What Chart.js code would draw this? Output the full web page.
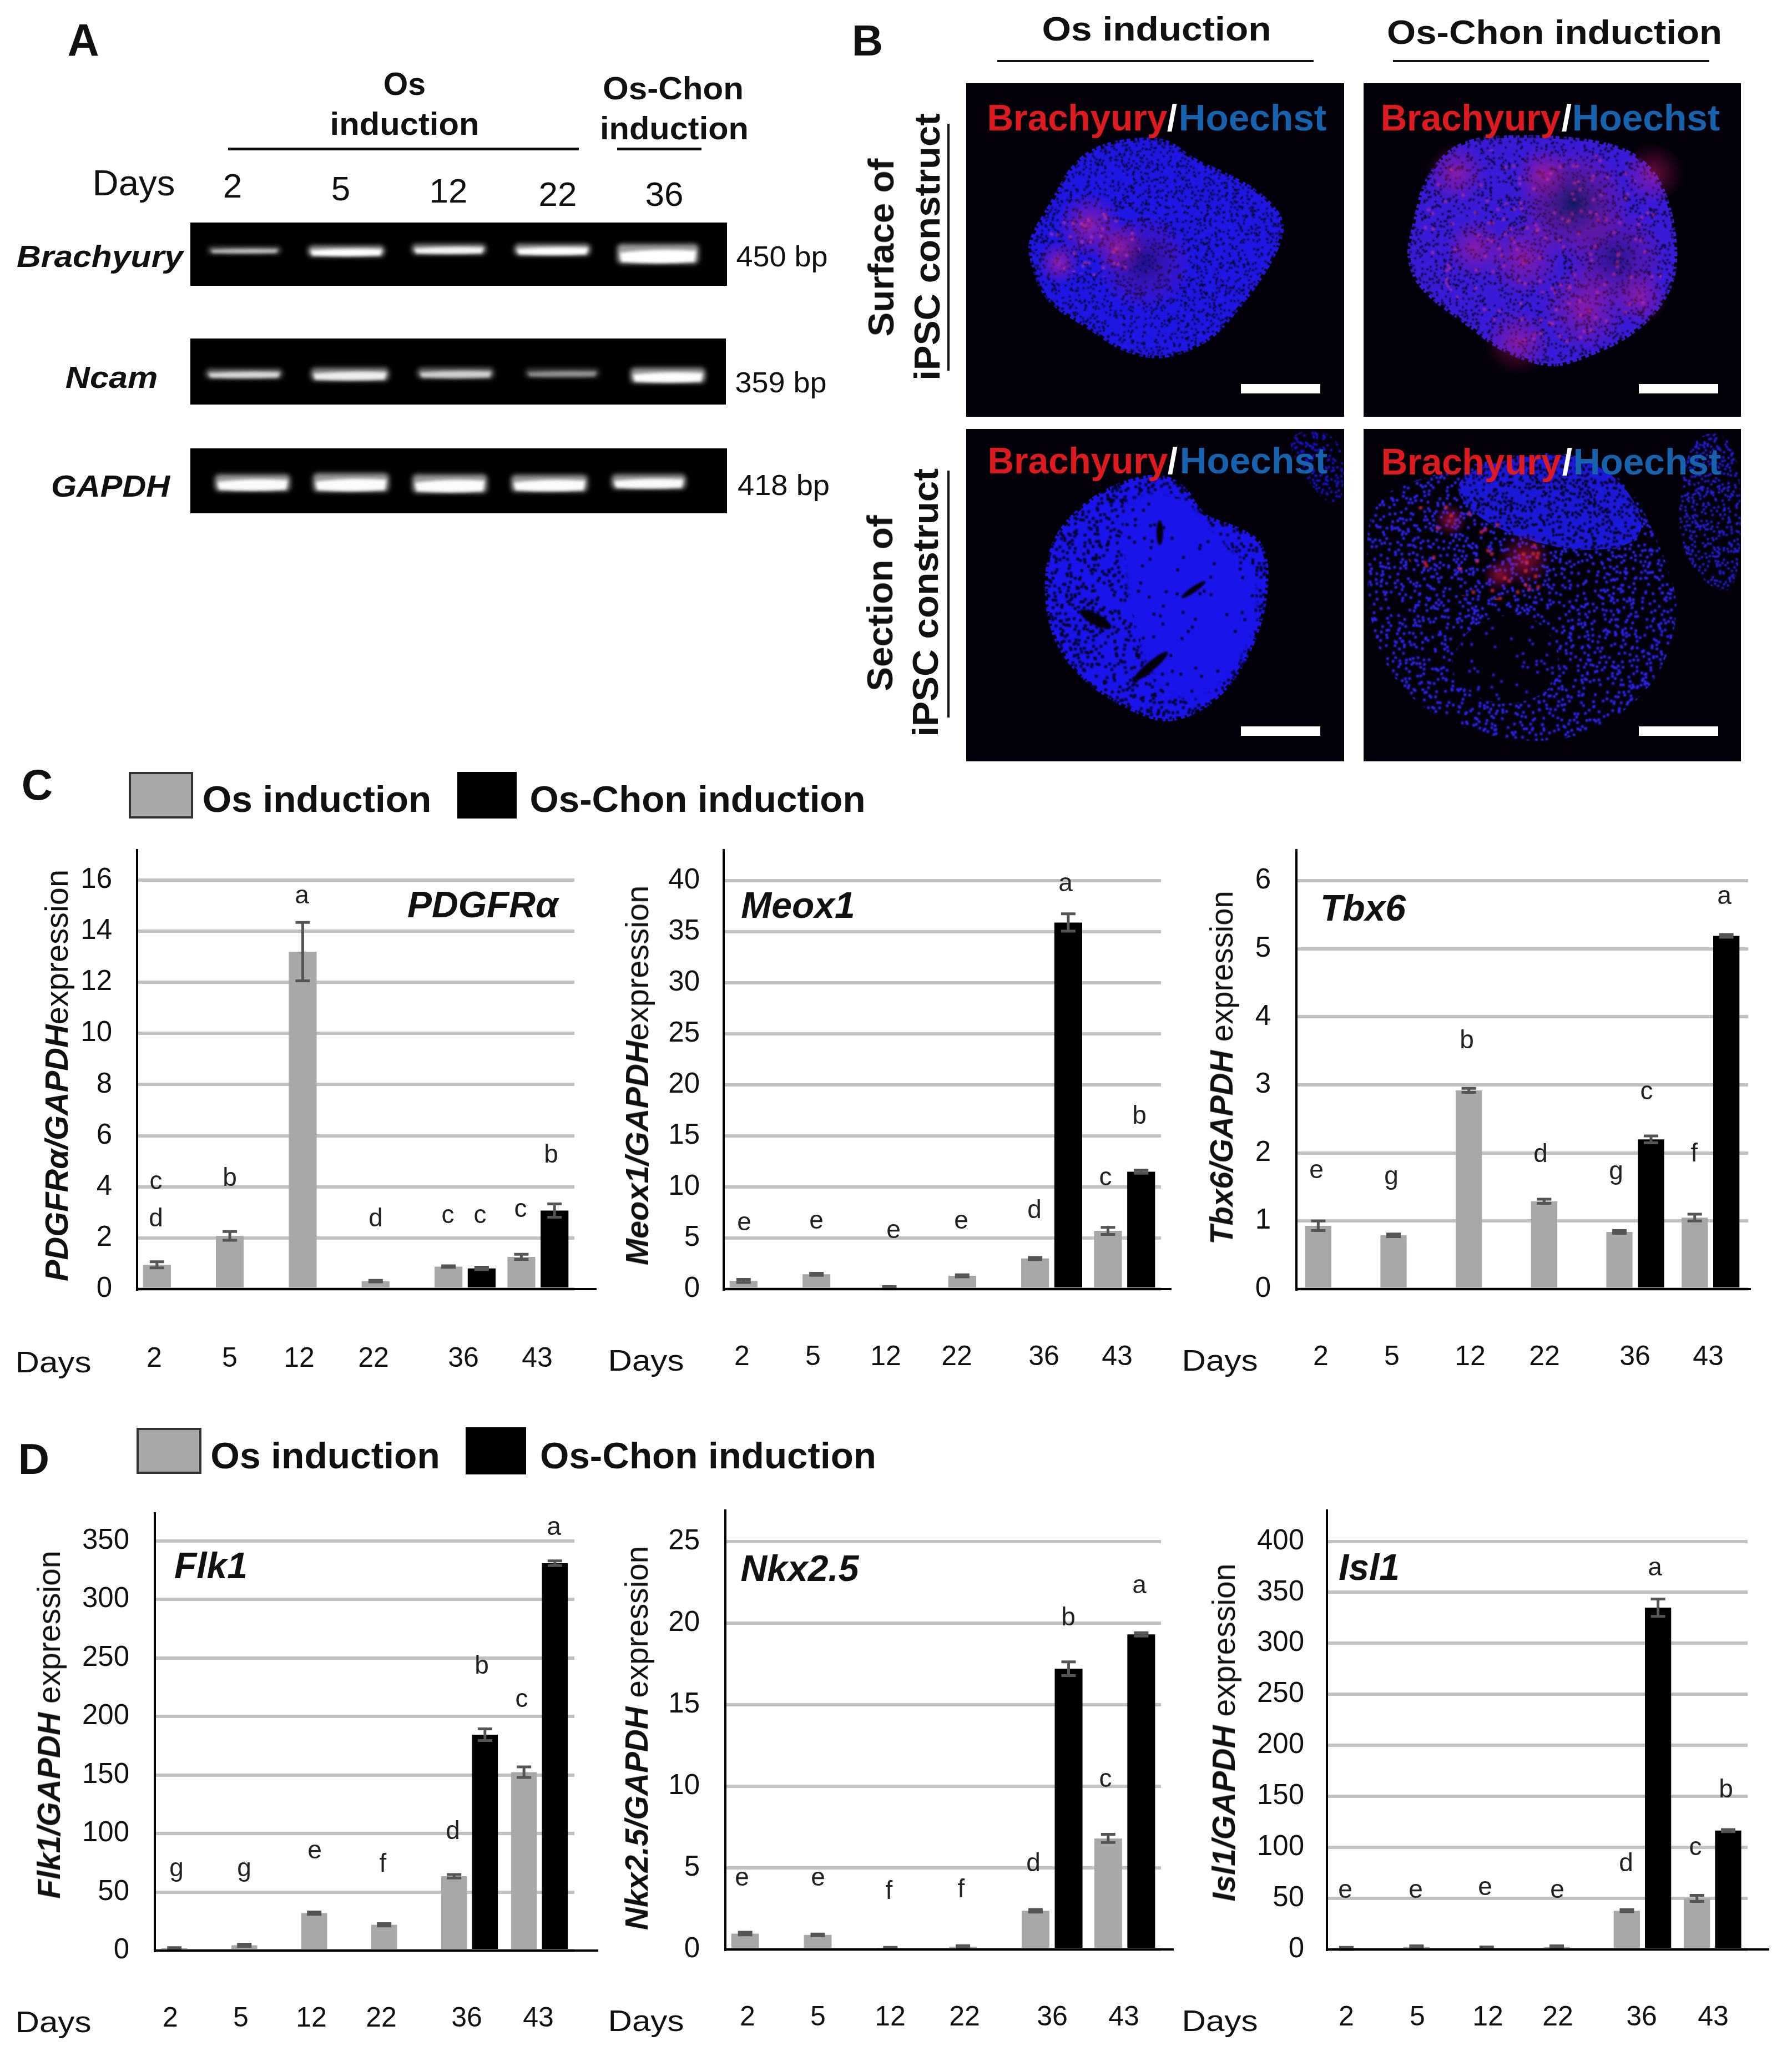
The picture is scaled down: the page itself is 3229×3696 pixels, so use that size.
<!DOCTYPE html>
<html>
<head>
<meta charset="utf-8">
<title>Mesoderm marker expression</title>
<script src="https://cdn.jsdelivr.net/npm/chart.js@4/dist/chart.umd.js"></script>
<style>
	html, body { margin: 0; background: #fff; }
	#page { position: relative; width: 3229px; height: 3696px; overflow: hidden; font-family: "Liberation Sans", Arial, sans-serif; color: #111; }
	#page canvas { position: absolute; }
	.t { position: absolute; white-space: nowrap; line-height: 1; }
	.r { position: absolute; }
</style>
</head>
<body>
<div id="page"><canvas id="pics" width="3229" height="3696" style="left:0;top:0"></canvas></div>

<script>
// data
const days = ['2', '5', '12', '22', '36', '43'];
const seriesNames = ['Os induction', 'Os-Chon induction'];

const pdgfrTicks = [0, 2, 4, 6, 8, 10, 12, 14, 16];
const pdgfrOs = [0.95, 2.08, 13.2, 0.31, 0.88, 1.26];
const pdgfrChon = [null, null, null, null, 0.81, 3.07];
const pdgfrOsErr = [0.12, 0.17, 1.14, 0.03, 0.03, 0.1];
const pdgfrChonErr = [null, null, null, null, 0.05, 0.26];

const meoxTicks = [0, 5, 10, 15, 20, 25, 30, 35, 40];
const meoxOs = [0.8, 1.45, 0.15, 1.3, 3.0, 5.7];
const meoxChon = [null, null, null, null, 35.9, 11.5];
const meoxOsErr = [0.15, 0.1, 0.1, 0.1, 0.1, 0.35];
const meoxChonErr = [null, null, null, null, 0.85, 0.15];

const tbxTicks = [0, 1, 2, 3, 4, 5, 6];
const tbxOs = [0.93, 0.79, 2.92, 1.29, 0.84, 1.05];
const tbxChon = [null, null, null, null, 2.2, 5.19];
const tbxOsErr = [0.07, 0.02, 0.03, 0.03, 0.02, 0.05];
const tbxChonErr = [null, null, null, null, 0.05, 0.02];

const flkTicks = [0, 50, 100, 150, 200, 250, 300, 350];
const flkOs = [2, 4.5, 32, 22, 63.5, 152.5];
const flkChon = [null, null, null, null, 184.5, 331];
const flkOsErr = [0.5, 1, 1, 1, 1.5, 4.5];
const flkChonErr = [null, null, null, null, 5, 2];

const nkxTicks = [0, 5, 10, 15, 20, 25];
const nkxOs = [0.97, 0.89, 0.08, 0.17, 2.37, 6.8];
const nkxChon = [null, null, null, null, 17.2, 19.3];
const nkxOsErr = [0.08, 0.05, 0.05, 0.06, 0.08, 0.25];
const nkxChonErr = [null, null, null, null, 0.42, 0.1];

const islTicks = [0, 50, 100, 150, 200, 250, 300, 350, 400];
const islOs = [1, 2.5, 1.5, 2.5, 38, 50];
const islChon = [null, null, null, null, 335, 116.5];
const islOsErr = [1, 1, 1, 1, 1, 3];
const islChonErr = [null, null, null, null, 8.5, 1];

const page = document.getElementById('page');

// text helper: centre at cx,cy, optional target length w (stretches like the source image)
function put(html, cx, cy, size, o) {
	o = o || {};
	const el = document.createElement('div');
	el.className = 't';
	el.innerHTML = html;
	el.style.fontSize = size + 'px';
	el.style.fontWeight = o.bold ? 'bold' : 'normal';
	el.style.fontStyle = o.italic ? 'italic' : 'normal';
	el.style.color = o.color || '#111';
	el.style.left = cx + 'px';
	el.style.top = cy + 'px';
	page.appendChild(el);
	const k = o.w ? o.w / el.offsetWidth : 1;
	el.style.transform = 'translate(-50%,-50%) rotate(' + (o.rot || 0) + 'deg) scaleX(' + k + ')';
}

function rect(x, y, w, h, fill, border) {
	const el = document.createElement('div');
	el.className = 'r';
	el.style.cssText = 'left:' + x + 'px;top:' + y + 'px;width:' + w + 'px;height:' + h + 'px;background:' + fill + ';' + (border ? 'border:4px solid ' + border + ';box-sizing:border-box;' : '');
	page.appendChild(el);
}

// ---- error bars, day labels and the axis overhang
const figureMarks = {
	id: 'figureMarks',
	afterDatasetsDraw(chart, args, opts) {
		const ctx = chart.ctx, y = chart.scales.y, a = chart.chartArea;
		ctx.save();
		ctx.strokeStyle = '#555';
		ctx.lineWidth = 5;
		chart.data.datasets.forEach((ds, d) => {
			chart.getDatasetMeta(d).data.forEach((bar, i) => {
				if (ds.data[i] === null) return;
				const top = y.getPixelForValue(ds.data[i] + opts.errs[d][i]);
				const bot = y.getPixelForValue(ds.data[i] - opts.errs[d][i]);
				ctx.beginPath();
				ctx.moveTo(bar.x, top); ctx.lineTo(bar.x, bot);
				ctx.moveTo(bar.x - 13, top); ctx.lineTo(bar.x + 13, top);
				ctx.moveTo(bar.x - 13, bot); ctx.lineTo(bar.x + 13, bot);
				ctx.stroke();
			});
		});
		ctx.strokeStyle = '#000';
		ctx.lineWidth = 4;
		ctx.beginPath();
		ctx.moveTo(a.right, a.bottom);
		ctx.lineTo(opts.axisEnd - opts.left, a.bottom);
		ctx.stroke();
		ctx.fillStyle = '#111';
		ctx.font = '50px "Liberation Sans"';
		ctx.textAlign = 'center';
		ctx.textBaseline = 'middle';
		chart.scales.x.ticks.forEach((t, i) => ctx.fillText(t.label, opts.dayX[i] - opts.left, opts.dayY - opts.top));
		ctx.restore();
	}
};

// the layout pads its boxes for half a tick label; the chart area here is pinned instead
function noPad(s) { s.paddingTop = s.paddingBottom = s.paddingLeft = s.paddingRight = 0; }

function barChart(c) {
	const left = c.l - 150, right = c.axisEnd + 20, top = c.t - 40, bottom = c.dayY + 50;
	const cv = document.createElement('canvas');
	cv.width = right - left;
	cv.height = bottom - top;
	cv.style.left = left + 'px';
	cv.style.top = top + 'px';
	page.appendChild(cv);
	new Chart(cv.getContext('2d'), {
		type: 'bar',
		data: {
			labels: days,
			datasets: [
				{ label: seriesNames[0], data: c.os, backgroundColor: '#aaa8a7' },
				{ label: seriesNames[1], data: c.chon, backgroundColor: '#000' }
			]
		},
		options: {
			responsive: false,
			animation: false,
			devicePixelRatio: 1,
			barPercentage: c.barPct,
			categoryPercentage: c.catPct,
			layout: { padding: { left: 0, right: right - c.r, top: c.t - top, bottom: bottom - c.b } },
			plugins: {
				legend: { display: false },
				tooltip: { enabled: false },
				figureMarks: { errs: c.errs, dayX: c.dayX, dayY: c.dayY, axisEnd: c.axisEnd, left: left, top: top }
			},
			scales: {
				x: {
					afterFit: s => { s.height = 0; noPad(s); },
					grid: { display: false },
					border: { color: '#000', width: 4, z: 1 },
					ticks: { display: false }
				},
				y: {
					min: 0,
					max: c.yMax,
					afterFit: s => { s.width = 150; noPad(s); },
					afterBuildTicks: s => { s.ticks = c.ticks.map(v => ({ value: v })); },
					grid: { color: '#c2c2c2', lineWidth: 6, drawTicks: false },
					border: { color: '#000', width: 4, z: 1 },
					ticks: { padding: c.tickPad, color: '#111', font: { family: 'Liberation Sans', size: 51 } }
				}
			}
		},
		plugins: [figureMarks]
	});

	// axis title, gene name, significance letters, "Days"
	put(c.title, c.titleX, c.titleY, 58, { rot: -90, w: c.titleLen });
	put(c.gene, c.geneX, c.geneY, 66, { bold: true, italic: true });
	put('Days', c.daysX, c.dayY + 5, 54, { w: 137 });
	c.letters.forEach(m => {
		const dy = m[0] === 'g' ? -8 : ('ace'.includes(m[0]) ? -4 : 0);
		put(m[0], m[1], m[2] + dy, 46, { color: '#222' });
	});
}

const tail = ' expression';
barChart({ os: pdgfrOs, chon: pdgfrChon, errs: [pdgfrOsErr, pdgfrChonErr], ticks: pdgfrTicks, yMax: 17.17,
	l: 247, r: 1035, t: 1532, b: 2323, axisEnd: 1075, barPct: 0.84, catPct: 0.91, tickPad: 45,
	dayX: [278, 414, 539, 673, 835, 968], dayY: 2449, daysX: 96,
	title: '<b><i>PDGFRα/GAPDH</i></b>expression', titleX: 102, titleY: 1938, titleLen: 742,
	gene: 'PDGFRα', geneX: 870, geneY: 1630,
	letters: [['c', 281, 2131], ['d', 281, 2194], ['b', 414, 2121], ['a', 544, 1616], ['d', 677, 2194], ['c', 807, 2192], ['c', 865, 2192], ['c', 938, 2181], ['b', 993, 2079]] });
barChart({ os: meoxOs, chon: meoxChon, errs: [meoxOsErr, meoxChonErr], ticks: meoxTicks, yMax: 42.99,
	l: 1304, r: 2092, t: 1532, b: 2323, axisEnd: 2111, barPct: 0.84, catPct: 0.91, tickPad: 43,
	dayX: [1337, 1465, 1596, 1724, 1881, 2013], dayY: 2446, daysX: 1164,
	title: '<b><i>Meox1/GAPDH</i></b>expression', titleX: 1148, titleY: 1938, titleLen: 685,
	gene: 'Meox1', geneX: 1438, geneY: 1631,
	letters: [['e', 1341, 2205], ['e', 1471, 2202], ['e', 1610, 2219], ['e', 1732, 2202], ['d', 1864, 2179], ['a', 1920, 1594], ['c', 1992, 2124], ['b', 2053, 2009]] });
barChart({ os: tbxOs, chon: tbxChon, errs: [tbxOsErr, tbxChonErr], ticks: tbxTicks, yMax: 6.45,
	l: 2336, r: 3150, t: 1532, b: 2323, axisEnd: 3155, barPct: 0.83, catPct: 0.84, tickPad: 46,
	dayX: [2380, 2508, 2649, 2783, 2946, 3078], dayY: 2446, daysX: 2198,
	title: '<b><i>Tbx6/GAPDH</i></b>' + tail, titleX: 2201, titleY: 1924, titleLen: 638,
	gene: 'Tbx6', geneX: 2456, geneY: 1636,
	letters: [['e', 2372, 2111], ['g', 2507, 2126], ['b', 2643, 1873], ['d', 2776, 2078], ['g', 2912, 2117], ['c', 2967, 1969], ['f', 3053, 2077], ['a', 3107, 1617]] });
barChart({ os: flkOs, chon: flkChon, errs: [flkOsErr, flkChonErr], ticks: flkTicks, yMax: 373.7,
	l: 279, r: 1035, t: 2727, b: 3515, axisEnd: 1078, barPct: 0.838, catPct: 0.883, tickPad: 46,
	dayX: [307, 434, 561, 687, 841, 970], dayY: 3638, daysX: 96,
	title: '<b><i>Flk1/GAPDH</i></b>' + tail, titleX: 88, titleY: 3108, titleLen: 627,
	gene: 'Flk1', geneX: 380, geneY: 2821,
	letters: [['g', 318, 3373], ['g', 440, 3373], ['e', 567, 3337], ['f', 690, 3357], ['d', 816, 3298], ['b', 868, 3000], ['c', 940, 3064], ['a', 998, 2754]] });
barChart({ os: nkxOs, chon: nkxChon, errs: [nkxOsErr, nkxChonErr], ticks: nkxTicks, yMax: 26.89,
	l: 1307, r: 2092, t: 2722, b: 3513, axisEnd: 2115, barPct: 0.84, catPct: 0.91, tickPad: 46,
	dayX: [1347, 1474, 1604, 1738, 1896, 2025], dayY: 3636, daysX: 1164,
	title: '<b><i>Nkx2.5/GAPDH</i></b>' + tail, titleX: 1147, titleY: 3132, titleLen: 692,
	gene: 'Nkx2.5', geneX: 1441, geneY: 2826,
	letters: [['e', 1337, 3386], ['e', 1474, 3386], ['f', 1602, 3406], ['f', 1732, 3403], ['d', 1862, 3356], ['b', 1925, 2913], ['c', 1992, 3208], ['a', 2053, 2859]] });
barChart({ os: islOs, chon: islChon, errs: [islOsErr, islChonErr], ticks: islTicks, yMax: 430.2,
	l: 2391, r: 3149, t: 2722, b: 3513, axisEnd: 3188, barPct: 0.84, catPct: 0.89, tickPad: 41,
	dayX: [2426, 2554, 2681, 2807, 2958, 3087], dayY: 3636, daysX: 2198,
	title: '<b><i>Isl1/GAPDH</i></b>' + tail, titleX: 2205, titleY: 3122, titleLen: 609,
	gene: 'Isl1', geneX: 2467, geneY: 2824,
	letters: [['e', 2424, 3408], ['e', 2551, 3408], ['e', 2676, 3403], ['e', 2806, 3408], ['d', 2930, 3356], ['a', 2982, 2827], ['c', 3055, 3331], ['b', 3110, 3223]] });

// ---- legends and panel letters
rect(232, 1391, 116, 84, '#aaa8a7', '#333');
rect(824, 1391, 107, 84, '#000');
put(seriesNames[0], 571, 1439, 67, { bold: true, w: 412 });
put(seriesNames[1], 1257, 1439, 67, { bold: true, w: 605 });
rect(246, 2573, 117, 83, '#aaa8a7', '#333');
rect(839, 2572, 109, 85, '#000');
put(seriesNames[0], 586, 2622, 67, { bold: true, w: 413 });
put(seriesNames[1], 1276, 2622, 67, { bold: true, w: 606 });
put('A', 150, 72, 82, { bold: true, w: 57 });
put('B', 1563, 73, 78, { bold: true });
put('C', 67, 1414, 78, { bold: true });
put('D', 61, 2629, 78, { bold: true });

// ---- panel A labels
put('Os', 729, 151, 58, { bold: true, w: 76 });
put('induction', 729, 223, 58, { bold: true, w: 269 });
put('Os-Chon', 1213, 159, 58, { bold: true, w: 254 });
put('induction', 1215, 231, 58, { bold: true, w: 268 });
rect(411, 266, 632, 5, '#111');
rect(1112, 266, 152, 5, '#111');
put('Days', 241, 330, 64, { w: 149 });
[['2', 419, 335, 34], ['5', 614, 340, 34], ['12', 808, 344, 69], ['22', 1005, 350, 69], ['36', 1197, 350, 69]].forEach(d => put(d[0], d[1], d[2], 62, { w: d[3] }));
put('Brachyury', 180, 462, 56, { bold: true, italic: true, w: 300 });
put('Ncam', 201, 680, 56, { bold: true, italic: true, w: 167 });
put('GAPDH', 199, 876, 56, { bold: true, italic: true, w: 214 });
put('450 bp', 1409, 462, 52, { w: 165 });
put('359 bp', 1407, 689, 52, { w: 165 });
put('418 bp', 1412, 874, 52, { w: 166 });

// ---- panel B labels
put('Os induction', 2084, 52, 62, { bold: true, w: 413 });
put('Os-Chon induction', 2801, 58, 62, { bold: true, w: 604 });
rect(1797, 108, 570, 4, '#111');
rect(2510, 108, 570, 4, '#111');
put('Surface of', 1588, 446, 64, { bold: true, rot: -90, w: 321 });
put('iPSC construct', 1671, 445, 64, { bold: true, rot: -90, w: 482 });
put('Section of', 1586, 1087, 64, { bold: true, rot: -90, w: 317 });
put('iPSC construct', 1668, 1086, 64, { bold: true, rot: -90, w: 484 });
rect(1707, 223, 4, 445, '#111');
rect(1707, 848, 4, 445, '#111');
[[1941, 2257, 2112, 212], [2650, 2966, 2823, 212], [1942, 2259, 2113, 830], [2651, 2968, 2824, 832]].forEach(s => {
	put('Brachyury', s[0], s[3], 66, { bold: true, color: '#dd1a20', w: 325 });
	put('/', s[2], s[3], 66, { bold: true, color: '#fff' });
	put('Hoechst', s[1], s[3], 66, { bold: true, color: '#1662ad', w: 266 });
});

// ---- gel and micrograph pictures (illustration only, no chart values)
const pics = document.getElementById('pics').getContext('2d');
const gels = [[343, 401, 967, 114], [343, 610, 965, 119], [343, 808, 967, 117]];
const bands = [
	[375, 445, 131, 12, .62], [555, 443, 138, 19, 1], [742, 440, 134, 18, .9], [927, 440, 137, 20, 1], [1112, 440, 147, 35, 1],
	[371, 665, 138, 17, .72], [560, 663, 141, 23, .85], [752, 663, 138, 19, .68], [946, 664, 134, 16, .42], [1136, 663, 135, 27, .97],
	[387, 855, 136, 30, .96], [564, 853, 137, 33, .96], [743, 855, 135, 33, .96], [921, 856, 138, 30, .96], [1102, 855, 134, 26, .94]
];
pics.fillStyle = '#000';
gels.forEach(g => pics.fillRect(g[0], g[1], g[2], g[3]));
bands.forEach(b => {
	// soft outer glow, then the saturated core with its dip in the middle
	pics.filter = 'blur(4px)';
	pics.fillStyle = 'rgba(200,200,200,' + b[4] * 0.8 + ')';
	pics.beginPath();
	pics.roundRect(b[0], b[1], b[2], b[3], 8);
	pics.fill();
	pics.filter = 'blur(2.5px)';
	pics.fillStyle = 'rgba(255,255,255,' + b[4] + ')';
	pics.beginPath();
	pics.moveTo(b[0] + 5, b[1] + b[3] * 0.45);
	pics.quadraticCurveTo(b[0] + b[2] / 2, b[1] + b[3] * 0.2, b[0] + b[2] - 5, b[1] + b[3] * 0.35);
	pics.lineTo(b[0] + b[2] - 8, b[1] + b[3] * 0.9);
	pics.quadraticCurveTo(b[0] + b[2] / 2, b[1] + b[3] * 1.05, b[0] + 8, b[1] + b[3] * 0.9);
	pics.closePath();
	pics.fill();
});
pics.filter = 'none';

const zx = z => 1500 + z / 0.907;
const zy = z => z / 1.12;
const speck = (a, b) => { const s = Math.sin(a * 12.9898 + b * 78.233) * 43758.5453; return s - Math.floor(s); };

function smoothPath(ctx, pts) {
	const P = pts.map(p => [zx(p[0]), zy(p[1])]);
	ctx.beginPath();
	ctx.moveTo((P[0][0] + P[P.length - 1][0]) / 2, (P[0][1] + P[P.length - 1][1]) / 2);
	P.forEach((p, i) => {
		const n = P[(i + 1) % P.length];
		ctx.quadraticCurveTo(p[0], p[1], (p[0] + n[0]) / 2, (p[1] + n[1]) / 2);
	});
	ctx.closePath();
}

// dots go on a side canvas first, so the blur runs once per layer and not once per dot
const dotLayer = document.createElement('canvas');
dotLayer.width = 3229;
dotLayer.height = 1400;
const dots = dotLayer.getContext('2d');

function dotted(pts, share, step, color, blur) {
	const xs = pts.map(p => zx(p[0])), ys = pts.map(p => zy(p[1]));
	const x0 = Math.floor(Math.min(...xs)), x1 = Math.max(...xs), y0 = Math.floor(Math.min(...ys)), y1 = Math.max(...ys);
	dots.clearRect(0, 0, 3229, 1400);
	dots.fillStyle = color;
	for (let x = x0; x < x1; x += step) {
		for (let y = y0; y < y1; y += step) {
			if (speck(x, y) < share) dots.fillRect(x + speck(y, x) * step, y + speck(x + 1, y) * step, step * 0.8, step * 0.8);
		}
	}
	pics.save();
	smoothPath(pics, pts);
	pics.clip();
	pics.filter = 'blur(' + blur + 'px)';
	pics.drawImage(dotLayer, 0, 0);
	pics.restore();
}

function blob(pts, fill, share, step, dotColor) {
	pics.fillStyle = fill;
	smoothPath(pics, pts);
	pics.fill();
	dotted(pts, share, step, dotColor || '#06061c', 1.2);
}

// bites out of an outline so the edge is not a clean curve
function roughEdge(pts) {
	pics.save();
	smoothPath(pics, pts);
	pics.strokeStyle = '#03000a';
	pics.lineWidth = 10;
	pics.setLineDash([4, 7, 8, 5, 3, 9]);
	pics.stroke();
	pics.restore();
}

function glow(z, r, color) {
	const x = zx(z[0]), y = zy(z[1]);
	const g = pics.createRadialGradient(x, y, 0, x, y, r);
	g.addColorStop(0, color);
	g.addColorStop(1, 'rgba(200,20,120,0)');
	pics.fillStyle = g;
	pics.fillRect(x - r, y - r, r * 2, r * 2);
}

function panel(x, y, w, h) { pics.fillStyle = '#03000a'; pics.fillRect(x, y, w, h); pics.save(); pics.beginPath(); pics.rect(x, y, w, h); pics.clip(); }

// surface, Os
const surfaceOs = [[470, 280], [545, 275], [590, 320], [640, 345], [700, 385], [740, 440], [735, 490], [705, 560], [665, 625], [620, 690], [540, 730], [470, 710], [420, 665], [345, 610], [320, 520], [320, 480], [360, 400], [385, 340], [420, 300]];
panel(1741, 150, 681, 601);
blob(surfaceOs, '#2016e4', 0.24, 4);
roughEdge(surfaceOs);
[[420, 455, 60], [370, 530, 40], [470, 500, 50]].forEach(s => glow([s[0], s[1]], s[2], 'rgba(225,40,140,.55)'));
glow([510, 530], 85, 'rgba(20,10,70,.55)');
dotted([[360, 440], [480, 420], [520, 560], [420, 560], [340, 530]], 0.1, 7, 'rgba(240,60,160,.5)', 1.5);
pics.restore();

// surface, Os-Chon
const surfaceChon = [[1020, 280], [1130, 270], [1250, 280], [1320, 310], [1365, 380], [1385, 510], [1370, 600], [1310, 680], [1220, 730], [1170, 745], [1090, 710], [1040, 660], [960, 590], [935, 520], [950, 440], [965, 360]];
panel(2457, 150, 680, 601);
blob(surfaceChon, '#3a1ad6', 0.2, 4);
roughEdge(surfaceChon);
glow([1210, 410], 100, 'rgba(10,25,90,.9)');
glow([1280, 520], 90, 'rgba(20,15,90,.6)');
[[1130, 520, 70], [1020, 350, 55], [1160, 350, 50], [1340, 350, 55], [1230, 620, 80], [1050, 500, 55], [1120, 690, 60], [1320, 600, 50]].forEach(s => glow([s[0], s[1]], s[2], 'rgba(225,30,120,.45)'));
dotted([[960, 300], [1320, 290], [1380, 620], [1180, 740], [960, 560]], 0.06, 7, 'rgba(240,50,140,.5)', 1.5);
pics.restore();

// section, Os: speckled rim around a solid core
const sectionOs = [[440, 985], [530, 950], [580, 980], [605, 1040], [660, 1060], [715, 1100], [710, 1250], [650, 1400], [560, 1465], [490, 1440], [400, 1370], [350, 1270], [345, 1140], [370, 1060]];
const sectionOsCore = [[470, 1000], [570, 990], [640, 1100], [700, 1160], [690, 1300], [600, 1430], [520, 1380], [480, 1200]];
panel(1741, 773, 681, 599);
blob(sectionOs, '#1a14ea', 0.34, 6, '#02021a');
pics.save();
smoothPath(pics, sectionOsCore);
pics.fillStyle = '#1a14ea';
pics.filter = 'blur(3px)';
pics.fill();
pics.restore();
dotted(sectionOsCore, 0.04, 6, '#02021a', 1.2);
roughEdge(sectionOs);
blob([[730, 870], [836, 870], [836, 1030], [790, 1000]], '#03000a', 0.4, 5, '#1a14d8');
pics.fillStyle = '#03000a';
pics.filter = 'blur(1.5px)';
[[430, 1250, 32, 10, .5], [520, 1345, 40, 8, -.7], [590, 1190, 26, 5, -.6], [535, 1075, 6, 22, 0]].forEach(h => {
	pics.beginPath();
	pics.ellipse(zx(h[0]), zy(h[1]), h[2], h[3], h[4], 0, Math.PI * 2);
	pics.fill();
});
pics.filter = 'none';
pics.restore();

// section, Os-Chon: sparse nuclei, denser cap at the top
panel(2457, 773, 680, 599);
blob([[880, 1000], [1000, 950], [1180, 900], [1300, 960], [1370, 1150], [1385, 1250], [1340, 1400], [1200, 1510], [1000, 1470], [890, 1340], [870, 1150]], '#03000a', 0.32, 6, '#2a24ec');
blob([[1000, 960], [1180, 905], [1290, 960], [1340, 1090], [1220, 1120], [1060, 1060]], '#1c18d8', 0.36, 5, '#03000a');
blob([[1400, 870], [1485, 880], [1485, 1195], [1430, 1190], [1375, 1080]], '#03000a', 0.42, 5, '#2420e0');
blob([[1040, 1260], [1130, 1230], [1190, 1300], [1180, 1400], [1080, 1430], [1000, 1360]], '#03000a', 0.05, 6, '#2420d8');
[[1010, 1050, 30], [1130, 1130, 50], [1090, 1160, 30]].forEach(s => glow([s[0], s[1]], s[2], 'rgba(235,25,70,.55)'));
dotted([[900, 1000], [1180, 1040], [1180, 1220], [960, 1200]], 0.05, 8, 'rgba(240,40,70,.7)', 1.5);
pics.restore();

// scale bars
pics.fillStyle = '#fff';
[[2236, 692], [2953, 692], [2236, 1309], [2953, 1309]].forEach(b => pics.fillRect(b[0], b[1], 143, 17));
</script>
</body>
</html>
